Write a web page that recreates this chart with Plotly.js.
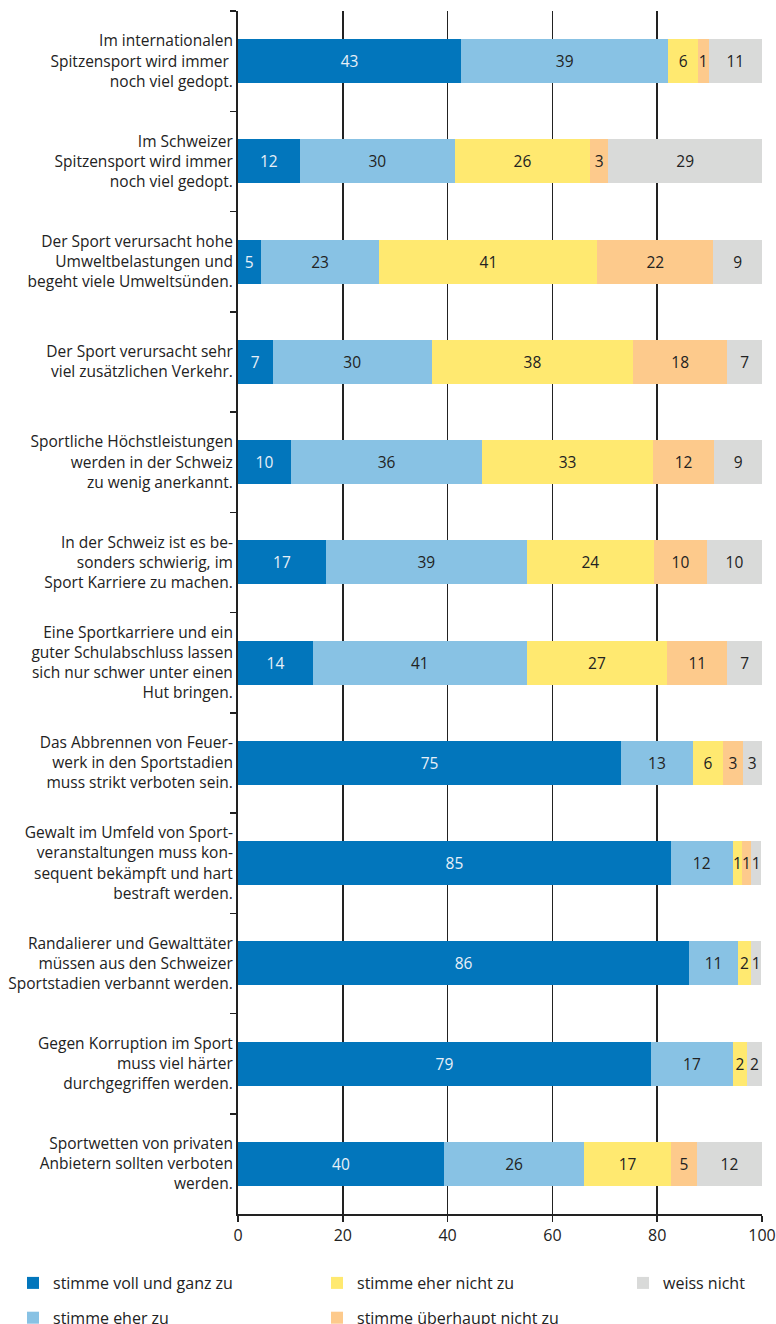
<!DOCTYPE html>
<html>
<head>
<meta charset="utf-8">
<script src="https://cdn.plot.ly/plotly-3.0.1.min.js"></script>
<style>
html,body{margin:0;padding:0;background:#fff;}
#chart{width:776px;height:1324px;}
</style>
</head>
<body>
<div id="chart"></div>
<script>
const categories = [
  "Im internationalen<br>Spitzensport wird immer <br>noch viel gedopt.",
  "Im Schweizer<br>Spitzensport wird immer<br>noch viel gedopt.",
  "Der Sport verursacht hohe<br>Umweltbelastungen und<br>begeht viele Umweltsünden.",
  "Der Sport verursacht sehr<br>viel zusätzlichen Verkehr.",
  "Sportliche Höchstleistungen<br>werden in der Schweiz<br>zu wenig anerkannt.",
  "In der Schweiz ist es be-<br>sonders schwierig, im<br>Sport Karriere zu machen.",
  "Eine Sportkarriere und ein<br>guter Schulabschluss lassen<br>sich nur schwer unter einen<br>Hut bringen.",
  "Das Abbrennen von Feuer-<br>werk in den Sportstadien<br>muss strikt verboten sein.",
  "Gewalt im Umfeld von Sport-<br>veranstaltungen muss kon-<br>sequent bekämpft und hart<br>bestraft werden.",
  "Randalierer und Gewalttäter<br>müssen aus den Schweizer<br>Sportstadien verbannt werden.",
  "Gegen Korruption im Sport<br>muss viel härter<br>durchgegriffen werden.",
  "Sportwetten von privaten<br>Anbietern sollten verboten<br>werden."
];

const seriesNames = [
  "stimme voll und ganz zu",
  "stimme eher zu",
  "stimme eher nicht zu",
  "stimme überhaupt nicht zu",
  "weiss nicht"
];

// segment widths (percent, as drawn)
const vollUndGanz    = [42.6, 11.8,  4.3,  6.6, 10.1, 16.8, 14.3, 73.1, 82.6, 86.1, 78.8, 39.3];
const eherZu         = [39.5, 29.6, 22.7, 30.4, 36.5, 38.3, 40.8, 13.7, 11.8,  9.3, 15.7, 26.8];
const eherNichtZu    = [ 5.7, 25.8, 41.6, 38.4, 32.6, 24.3, 26.8,  5.8,  1.8,  2.5,  2.6, 16.5];
const ueberhauptNicht= [ 2.0,  3.5, 22.1, 18.0, 11.7, 10.1, 11.5,  3.7,  1.7,  0.0,  0.0,  5.0];
const weissNicht     = [10.2, 29.3,  9.3,  6.6,  9.1, 10.5,  6.6,  3.7,  2.0,  2.0,  2.9, 12.4];

// printed value labels
const labelsVoll       = ["43","12","5","7","10","17","14","75","85","86","79","40"];
const labelsEherZu     = ["39","30","23","30","36","39","41","13","12","11","17","26"];
const labelsEherNicht  = ["6","26","41","38","33","24","27","6","1","2","2","17"];
const labelsUeberhaupt = ["1","3","22","18","12","10","11","3","1","","","5"];
const labelsWeiss      = ["11","29","9","7","9","10","7","3","1","1","2","12"];

const xTicks = [0, 20, 40, 60, 80, 100];

const colors = ["#0276bc", "#88c2e4", "#ffe970", "#fdca8c", "#d9dad9"];
const textColors = ["#e8f0f8", "#222222", "#222222", "#222222", "#222222"];
const values = [vollUndGanz, eherZu, eherNichtZu, ueberhauptNicht, weissNicht];
const labels = [labelsVoll, labelsEherZu, labelsEherNicht, labelsUeberhaupt, labelsWeiss];
const legendOf = ["legend", "legend", "legend2", "legend2", "legend3"];

const FONT = "'Open Sans', 'Noto Sans', sans-serif";

const traces = values.map((v, i) => ({
  type: "bar",
  orientation: "h",
  name: seriesNames[i],
  y: categories,
  x: v,
  text: labels[i],
  texttemplate: "%{text}",
  textposition: "inside",
  insidetextanchor: "middle",
  textangle: 0,
  textfont: {family: FONT, size: 15.5, color: textColors[i]},
  marker: {color: colors[i], line: {width: 0}},
  width: 0.44,
  legend: legendOf[i],
  legendgroup: "g" + i,
  hoverinfo: "skip"
}));

// plot area: x 238..762, y 11..1214
const PL = 238, PW = 524, PB = 1214, PH = 1203;
function legendAt(xpx, ypx) {
  return {
    orientation: "v",
    xref: "paper", yref: "paper",
    x: (xpx - PL) / PW, y: (PB - ypx) / PH, xanchor: "left", yanchor: "top",
    itemwidth: 30,
    tracegroupgap: 11,
    font: {family: FONT, size: 16, color: "#222"},
    bgcolor: "rgba(0,0,0,0)",
    traceorder: "grouped"
  };
}

const layout = {
  width: 776,
  height: 1324,
  margin: {l: 238, r: 14, t: 11, b: 110, autoexpand: false},
  paper_bgcolor: "#ffffff",
  plot_bgcolor: "#ffffff",
  barmode: "stack",
  bargap: 0.56,
  font: {family: FONT, size: 15.5, color: "#222222"},
  uniformtext: {mode: "show", minsize: 15.5},
  showlegend: true,
  xaxis: {
    range: [0, 100],
    tickvals: xTicks,
    ticktext: xTicks.map(String),
    ticks: "outside",
    ticklen: 6,
    tickwidth: 1.5,
    tickcolor: "#222",
    showgrid: true,
    gridcolor: "#222",
    gridwidth: 1.5,
    zeroline: false,
    showline: true,
    linecolor: "#222",
    linewidth: 2,
    automargin: false,
    tickfont: {family: FONT, size: 16, color: "#222"},
    fixedrange: true
  },
  yaxis: {
    type: "category",
    autorange: "reversed",
    tickson: "boundaries",
    ticks: "outside",
    ticklen: 6,
    tickwidth: 1.5,
    tickcolor: "#222",
    showgrid: false,
    zeroline: false,
    showline: true,
    linecolor: "#222",
    linewidth: 2,
    automargin: false,
    tickfont: {family: FONT, size: 15.5, color: "#222"},
    fixedrange: true
  },
  legend: legendAt(13, 1266),
  legend2: legendAt(317, 1266),
  legend3: legendAt(623, 1266),
  hovermode: false
};

Plotly.newPlot("chart", traces, layout, {displayModeBar: false, staticPlot: true});
</script>
</body>
</html>
